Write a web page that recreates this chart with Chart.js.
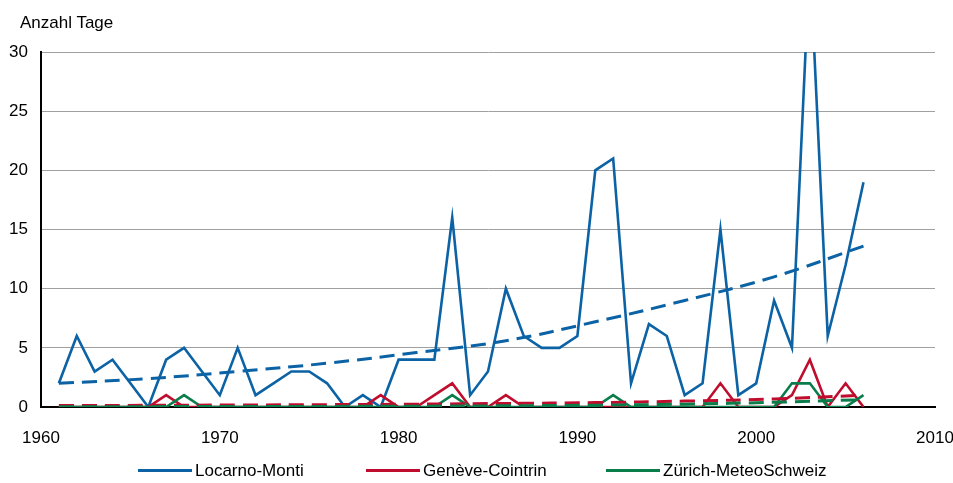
<!DOCTYPE html>
<html>
<head>
<meta charset="utf-8">
<script src="https://cdn.jsdelivr.net/npm/chart.js@4/dist/chart.umd.min.js"></script>
<style>
  body { margin: 0; background: #fff; }
  #wrap { position: relative; width: 953px; height: 483px; font-family: 'Liberation Sans', Arial, sans-serif; color: #000; }
  #title { position: absolute; left: 20px; top: 14px; font-size: 17px; line-height: 17px; }
  .leg { position: absolute; top: 462px; display: flex; align-items: center; font-size: 17px; line-height: 17px; }
  .leg span.swatch { display: inline-block; width: 54px; height: 3px; margin-right: 3px; }
</style>
</head>
<body>
<div id="wrap">
  <canvas id="chart" width="953" height="483"></canvas>
  <div id="title">Anzahl Tage</div>
  <div class="leg" style="left:138px"><span class="swatch" style="background:#0b62a4"></span>Locarno-Monti</div>
  <div class="leg" style="left:366px"><span class="swatch" style="background:#c00d2d"></span>Genève-Cointrin</div>
  <div class="leg" style="left:606px"><span class="swatch" style="background:#0a7d4b"></span>Zürich-MeteoSchweiz</div>
</div>
<script>
// years 1961 - 2006
const years = [];
for (let y = 1961; y <= 2006; y++) years.push(y);

const locarno = [2, 6, 3, 4, 2, 0, 4, 5, 3, 1,
  5, 1, 2, 3, 3, 2, 0, 1, 0, 4,
  4, 4, 16, 1, 3, 10, 6, 5, 5, 6,
  20, 21, 2, 7, 6, 1, 2, 15, 1, 2,
  9, 5, 38, 6, 12, 19];
const geneve = [0, 0, 0, 0, 0, 0, 1, 0, 0, 0,
  0, 0, 0, 0, 0, 0, 0, 0, 1, 0,
  0, 1, 2, 0, 0, 1, 0, 0, 0, 0,
  0, 0, 0, 0, 0, 0, 0, 2, 0, 0,
  0, 1, 4, 0, 2, 0];
const zuerich = [0, 0, 0, 0, 0, 0, 0, 1, 0, 0,
  0, 0, 0, 0, 0, 0, 0, 0, 0, 0,
  0, 0, 1, 0, 0, 0, 0, 0, 0, 0,
  0, 1, 0, 0, 0, 0, 0, 0, 0, 0,
  0, 2, 2, 0, 0, 1];

// trend lines
const trendYears = [1961, 1966, 1971, 1976, 1981, 1986, 1991, 1996, 2001, 2006];
const locarnoTrend = [2.0, 2.4, 3.0, 3.7, 4.6, 5.6, 7.2, 9.0, 11.0, 13.6];
const geneveTrend = [0.12, 0.14, 0.17, 0.2, 0.24, 0.3, 0.37, 0.5, 0.68, 1.0];
const zuerichTrend = [0.02, 0.03, 0.04, 0.05, 0.07, 0.1, 0.15, 0.24, 0.4, 0.62];

const xTicks = [1960, 1970, 1980, 1990, 2000, 2010];
const yTicks = [0, 5, 10, 15, 20, 25, 30];

const BLUE = '#0b62a4', RED = '#c00d2d', GREEN = '#0a7d4b';
const tickFont = {family: "'Liberation Sans', Arial, sans-serif", size: 17};

const pts = (xs, ys) => xs.map((x, i) => ({x, y: ys[i]}));

function solid(label, color, values, order) {
  return {label, data: pts(years, values), borderColor: color, backgroundColor: color,
    borderWidth: 2.6, pointRadius: 0, tension: 0, order};
}
function trend(label, color, values, order) {
  return {label, data: pts(trendYears, values), borderColor: color, backgroundColor: color,
    borderWidth: 3, borderDash: [15, 8], pointRadius: 0, tension: 0.4, order};
}

new Chart(document.getElementById('chart').getContext('2d'), {
  type: 'line',
  data: {
    datasets: [
      trend('Trend Zürich', GREEN, zuerichTrend, 0),
      trend('Trend Genève', RED, geneveTrend, 1),
      trend('Trend Locarno', BLUE, locarnoTrend, 2),
      solid('Zürich-MeteoSchweiz', GREEN, zuerich, 3),
      solid('Genève-Cointrin', RED, geneve, 4),
      solid('Locarno-Monti', BLUE, locarno, 5),
    ]
  },
  options: {
    responsive: false,
    animation: false,
    devicePixelRatio: 1,
    layout: {padding: {left: 0, right: 18, top: 52, bottom: 0}},
    plugins: {legend: {display: false}, tooltip: {enabled: false}},
    scales: {
      x: {
        type: 'linear', min: 1960, max: 2010,
        afterBuildTicks: s => { s.ticks = xTicks.map(v => ({value: v})); },
        afterFit: s => { s.height = 76; s.paddingLeft = 0; s.paddingRight = 0; },
        grid: {display: false, drawTicks: false},
        border: {display: true, color: '#000', width: 2},
        ticks: {color: '#000', font: tickFont, padding: 21, maxRotation: 0, callback: v => String(v)}
      },
      y: {
        min: 0, max: 30,
        afterBuildTicks: s => { s.ticks = yTicks.map(v => ({value: v})); },
        afterFit: s => { s.width = 41; s.paddingTop = 0; s.paddingBottom = 0; },
        grid: {color: '#a0a0a0', lineWidth: 1, drawTicks: false},
        border: {display: true, color: '#000', width: 2},
        ticks: {color: '#000', font: tickFont, padding: 13, callback: v => String(v)}
      }
    }
  }
});
</script>
</body>
</html>
